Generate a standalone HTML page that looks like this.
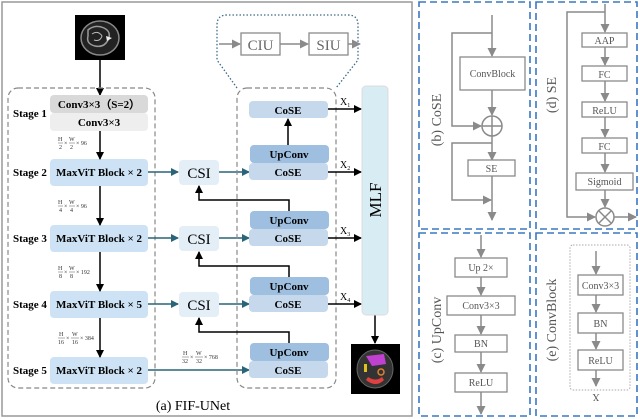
<!DOCTYPE html>
<html><head><meta charset="utf-8"><style>
body{margin:0;background:#fff;}
svg{display:block;font-family:"Liberation Serif",serif;}
.b{font-weight:bold;font-size:11px;}
.g{fill:#fff;stroke:#8a8a8a;stroke-width:1.3;}
.gt{font-size:10px;fill:#555;text-anchor:middle;}
.f{font-size:6px;fill:#333;}
</style></head><body>
<svg width="640" height="419" viewBox="0 0 640 419" xmlns="http://www.w3.org/2000/svg">
<defs>
<marker id="ak" markerWidth="8" markerHeight="8" refX="7" refY="4" orient="auto" markerUnits="userSpaceOnUse"><path d="M0,0 L8,4 L0,8z" fill="#000"/></marker>
<marker id="at" markerWidth="8" markerHeight="8" refX="7" refY="4" orient="auto" markerUnits="userSpaceOnUse"><path d="M0,0 L8,4 L0,8z" fill="#2a6478"/></marker>
<marker id="ag" markerWidth="9" markerHeight="9" refX="8" refY="4.5" orient="auto" markerUnits="userSpaceOnUse"><path d="M0,0 L9,4.5 L0,9z" fill="#8a8a8a"/></marker>
</defs>
<rect x="2" y="2" width="410" height="414" fill="none" stroke="#999" stroke-width="1.5"/>
<!-- input image -->
<rect x="75" y="15" width="50" height="45" fill="#000"/>
<ellipse cx="100" cy="38" rx="19" ry="17" fill="#222" stroke="#888" stroke-width="1.5"/>
<path d="M88,30 Q95,24 104,28 Q112,32 108,40 Q104,48 95,46 Q86,44 88,36z" fill="none" stroke="#999" stroke-width="1.5"/>
<path d="M92,34 Q98,30 102,36 Q100,42 94,40" fill="none" stroke="#bbb" stroke-width="1"/>
<path d="M106,36 L112,38 L107,41z" fill="#eee"/>
<line x1="100" y1="60" x2="100" y2="95" stroke="#000" stroke-width="1.5" marker-end="url(#ak)"/>
<rect x="8" y="88" width="147" height="300" rx="10" fill="none" stroke="#888" stroke-dasharray="5,3" stroke-width="1.2"/>
<rect x="50" y="95" width="98" height="18" rx="4" fill="#d9d9d9"/>
<rect x="50" y="113" width="98" height="18" rx="4" fill="#eeeeee"/>
<text x="99" y="108" class="b" text-anchor="middle">Conv3×3（S=2）</text>
<text x="99" y="126" class="b" text-anchor="middle">Conv3×3</text>
<text x="13" y="117" class="b">Stage 1</text>
<g fill="#cde3f5">
<rect x="50" y="159" width="98" height="27" rx="4"/>
<rect x="50" y="225" width="98" height="27" rx="4"/>
<rect x="50" y="291" width="98" height="27" rx="4"/>
<rect x="50" y="357" width="98" height="27" rx="4"/>
</g>
<g class="b">
<text x="13" y="176">Stage 2</text><text x="13" y="242">Stage 3</text><text x="13" y="308">Stage 4</text><text x="13" y="374">Stage 5</text>
<text x="99" y="176" text-anchor="middle">MaxViT Block × 2</text>
<text x="99" y="242" text-anchor="middle">MaxViT Block × 2</text>
<text x="99" y="308" text-anchor="middle">MaxViT Block × 5</text>
<text x="99" y="374" text-anchor="middle">MaxViT Block × 2</text>
</g>
<g stroke="#000" stroke-width="1.5">
<line x1="100" y1="131" x2="100" y2="159" marker-end="url(#ak)"/>
<line x1="100" y1="186" x2="100" y2="225" marker-end="url(#ak)"/>
<line x1="100" y1="252" x2="100" y2="291" marker-end="url(#ak)"/>
<line x1="100" y1="318" x2="100" y2="357" marker-end="url(#ak)"/>
</g>
<!-- fractions -->
<g class="f">
<g transform="translate(58,144)"><text x="0" y="-3">H</text><line x1="0" y1="-1" x2="5" y2="-1" stroke="#333" stroke-width="0.4"/><text x="1" y="5">2</text><text x="6" y="1">×</text><text x="11" y="-3">W</text><line x1="11" y1="-1" x2="17" y2="-1" stroke="#333" stroke-width="0.4"/><text x="12" y="5">2</text><text x="18" y="1">× 96</text></g>
<g transform="translate(58,207)"><text x="0" y="-3">H</text><line x1="0" y1="-1" x2="5" y2="-1" stroke="#333" stroke-width="0.4"/><text x="1" y="5">4</text><text x="6" y="1">×</text><text x="11" y="-3">W</text><line x1="11" y1="-1" x2="17" y2="-1" stroke="#333" stroke-width="0.4"/><text x="12" y="5">4</text><text x="18" y="1">× 96</text></g>
<g transform="translate(58,273)"><text x="0" y="-3">H</text><line x1="0" y1="-1" x2="5" y2="-1" stroke="#333" stroke-width="0.4"/><text x="1" y="5">8</text><text x="6" y="1">×</text><text x="11" y="-3">W</text><line x1="11" y1="-1" x2="17" y2="-1" stroke="#333" stroke-width="0.4"/><text x="12" y="5">8</text><text x="18" y="1">× 192</text></g>
<g transform="translate(58,339)"><text x="1" y="-3">H</text><line x1="0" y1="-1" x2="7" y2="-1" stroke="#333" stroke-width="0.4"/><text x="0" y="5">16</text><text x="8" y="1">×</text><text x="14" y="-3">W</text><line x1="13" y1="-1" x2="21" y2="-1" stroke="#333" stroke-width="0.4"/><text x="14" y="5">16</text><text x="22" y="1">× 384</text></g>
<g transform="translate(182,358)"><text x="1" y="-3">H</text><line x1="0" y1="-1" x2="7" y2="-1" stroke="#333" stroke-width="0.4"/><text x="0" y="5">32</text><text x="8" y="1">×</text><text x="14" y="-3">W</text><line x1="13" y1="-1" x2="21" y2="-1" stroke="#333" stroke-width="0.4"/><text x="14" y="5">32</text><text x="22" y="1">× 768</text></g>
</g>
<g fill="#e4eef7">
<rect x="179" y="160" width="40" height="25" rx="4"/>
<rect x="179" y="226" width="40" height="25" rx="4"/>
<rect x="179" y="292" width="40" height="25" rx="4"/>
</g>
<g font-size="15" text-anchor="middle"><text x="199" y="178">CSI</text><text x="199" y="244">CSI</text><text x="199" y="310">CSI</text></g>
<g stroke="#2a6478" stroke-width="1.5">
<line x1="148" y1="172" x2="178" y2="172" marker-end="url(#at)"/>
<line x1="148" y1="238" x2="178" y2="238" marker-end="url(#at)"/>
<line x1="148" y1="304" x2="178" y2="304" marker-end="url(#at)"/>
<line x1="219" y1="172" x2="249" y2="172" marker-end="url(#at)"/>
<line x1="219" y1="238" x2="249" y2="238" marker-end="url(#at)"/>
<line x1="219" y1="304" x2="249" y2="304" marker-end="url(#at)"/>
<line x1="148" y1="370" x2="249" y2="370" marker-end="url(#at)"/>
</g>
<rect x="237" y="88" width="99" height="300" rx="10" fill="none" stroke="#888" stroke-dasharray="5,3" stroke-width="1.2"/>
<g fill="#c6d8ec">
<rect x="249" y="101" width="79" height="17" rx="4"/>
<rect x="249" y="163" width="79" height="17" rx="4"/>
<rect x="249" y="229" width="79" height="17" rx="4"/>
<rect x="249" y="295" width="79" height="17" rx="4"/>
<rect x="249" y="361" width="79" height="17" rx="4"/>
</g>
<g fill="#9ebfe0">
<rect x="250" y="145" width="79" height="18" rx="4"/>
<rect x="250" y="211" width="79" height="18" rx="4"/>
<rect x="250" y="277" width="79" height="18" rx="4"/>
<rect x="250" y="343" width="79" height="18" rx="4"/>
</g>
<g class="b" text-anchor="middle">
<text x="288" y="114">CoSE</text>
<text x="289" y="158">UpConv</text><text x="288" y="176">CoSE</text>
<text x="289" y="224">UpConv</text><text x="288" y="242">CoSE</text>
<text x="289" y="290">UpConv</text><text x="288" y="308">CoSE</text>
<text x="289" y="356">UpConv</text><text x="288" y="374">CoSE</text>
</g>
<g stroke="#000" stroke-width="1.5" fill="none">
<line x1="288" y1="145" x2="288" y2="119" marker-end="url(#ak)"/>
<polyline points="289,211 289,200 199,200 199,186" marker-end="url(#ak)"/>
<polyline points="289,277 289,266 199,266 199,252" marker-end="url(#ak)"/>
<polyline points="289,343 289,332 199,332 199,318" marker-end="url(#ak)"/>
<line x1="328" y1="109" x2="361" y2="109" marker-end="url(#ak)"/>
<line x1="328" y1="172" x2="361" y2="172" marker-end="url(#ak)"/>
<line x1="328" y1="238" x2="361" y2="238" marker-end="url(#ak)"/>
<line x1="328" y1="304" x2="361" y2="304" marker-end="url(#ak)"/>
<line x1="375" y1="315" x2="375" y2="343" marker-end="url(#ak)"/>
</g>
<g font-size="10"><text x="340" y="105">X<tspan font-size="6" dy="2">1</tspan></text><text x="340" y="168">X<tspan font-size="6" dy="2">2</tspan></text><text x="340" y="234">X<tspan font-size="6" dy="2">3</tspan></text><text x="340" y="300">X<tspan font-size="6" dy="2">4</tspan></text></g>
<rect x="362" y="86" width="26" height="229" rx="4" fill="#d8ecf3" stroke="#ddd"/>
<text x="0" y="0" font-size="17" text-anchor="middle" transform="translate(381,200) rotate(-90)">MLF</text>
<rect x="351" y="344" width="49" height="50" fill="#000"/>
<ellipse cx="375" cy="369" rx="18" ry="19" fill="#333" stroke="#666"/>
<path d="M366,356 L384,354 L386,364 L372,366z" fill="#c040d0"/>
<path d="M366,380 Q376,388 384,380 L382,377 Q376,382 368,377z" fill="#e04040"/>
<rect x="364" y="364" width="3" height="8" fill="#e0c020"/>
<circle cx="381" cy="372" r="3" fill="none" stroke="#e08030" stroke-width="1.5"/>
<path d="M237,88 L217,60 L217,25 Q217,15 227,15 L348,15 Q358,15 358,25 L358,60 L336,88" fill="none" stroke="#3a6b8a" stroke-dasharray="1.5,2" stroke-width="1.3"/>
<rect x="241" y="33" width="39" height="22" class="g"/>
<rect x="309" y="33" width="39" height="22" class="g"/>
<g font-size="15" fill="#666" text-anchor="middle"><text x="260.5" y="50">CIU</text><text x="328.5" y="50">SIU</text></g>
<g stroke="#8a8a8a" stroke-width="1.5">
<line x1="219" y1="44" x2="240" y2="44" marker-end="url(#ag)"/>
<line x1="280" y1="44" x2="308" y2="44" marker-end="url(#ag)"/>
<line x1="348" y1="44" x2="360" y2="44" marker-end="url(#ag)"/>
</g>
<text x="193" y="410" font-size="14" text-anchor="middle">(a) FIF-UNet</text>
<g fill="none" stroke="#3a78c2" stroke-width="1.6" stroke-dasharray="7,4">
<rect x="419" y="2" width="111" height="227"/>
<rect x="536" y="2" width="101" height="227"/>
<rect x="419" y="233" width="111" height="183"/>
<rect x="536" y="233" width="101" height="183"/>
</g>
<g stroke="#8a8a8a" stroke-width="1.5" fill="none">
<line x1="492" y1="15" x2="492" y2="56" marker-end="url(#ag)"/>
<polyline points="492,33 452,33 452,126 481,126" marker-end="url(#ag)"/>
<line x1="492" y1="90" x2="492" y2="115" marker-end="url(#ag)"/>
<circle cx="492" cy="126" r="10"/>
<line x1="482" y1="126" x2="502" y2="126"/><line x1="492" y1="116" x2="492" y2="136"/>
<line x1="492" y1="136" x2="492" y2="160" marker-end="url(#ag)"/>
<polyline points="492,143 452,143 452,200 491,200" marker-end="url(#ag)"/>
<line x1="492" y1="176" x2="492" y2="220" marker-end="url(#ag)"/>
</g>
<rect x="460" y="57" width="65" height="33" class="g"/>
<rect x="468" y="160" width="47" height="16" class="g"/>
<text x="492.5" y="77" class="gt">ConvBlock</text>
<text x="491.5" y="172" class="gt">SE</text>
<text font-size="14" fill="#555" text-anchor="middle" transform="translate(441,120) rotate(-90)">(b) CoSE</text>
<g stroke="#8a8a8a" stroke-width="1.5" fill="none">
<line x1="605" y1="4" x2="605" y2="32" marker-end="url(#ag)"/>
<polyline points="605,12 567,12 567,217 595,217" marker-end="url(#ag)"/>
<line x1="605" y1="47" x2="605" y2="65" marker-end="url(#ag)"/>
<line x1="605" y1="81" x2="605" y2="101" marker-end="url(#ag)"/>
<line x1="605" y1="117" x2="605" y2="137" marker-end="url(#ag)"/>
<line x1="605" y1="153" x2="605" y2="172" marker-end="url(#ag)"/>
<line x1="605" y1="190" x2="605" y2="207" marker-end="url(#ag)"/>
<circle cx="605" cy="217" r="9"/>
<line x1="599" y1="211" x2="611" y2="223"/><line x1="611" y1="211" x2="599" y2="223"/>
<line x1="614" y1="217" x2="636" y2="217" marker-end="url(#ag)"/>
</g>
<rect x="582" y="33" width="45" height="14" class="g"/>
<rect x="582" y="66" width="45" height="15" class="g"/>
<rect x="582" y="102" width="45" height="15" class="g"/>
<rect x="582" y="138" width="45" height="15" class="g"/>
<rect x="576" y="173" width="57" height="17" class="g"/>
<text x="604.5" y="44" class="gt">AAP</text>
<text x="604.5" y="78" class="gt">FC</text>
<text x="604.5" y="114" class="gt">ReLU</text>
<text x="604.5" y="150" class="gt">FC</text>
<text x="604.5" y="185" class="gt">Sigmoid</text>
<text font-size="14" fill="#555" text-anchor="middle" transform="translate(556,95) rotate(-90)">(d) SE</text>
<g stroke="#8a8a8a" stroke-width="1.5">
<line x1="481" y1="235" x2="481" y2="257" marker-end="url(#ag)"/>
<line x1="481" y1="277" x2="481" y2="295" marker-end="url(#ag)"/>
<line x1="481" y1="315" x2="481" y2="334" marker-end="url(#ag)"/>
<line x1="481" y1="352" x2="481" y2="372" marker-end="url(#ag)"/>
<line x1="481" y1="392" x2="481" y2="414" marker-end="url(#ag)"/>
</g>
<rect x="455" y="258" width="52" height="19" class="g"/>
<rect x="447" y="296" width="68" height="19" class="g"/>
<rect x="455" y="335" width="52" height="17" class="g"/>
<rect x="455" y="373" width="52" height="19" class="g"/>
<text x="481" y="271" class="gt">Up 2×</text>
<text x="481" y="309" class="gt">Conv3×3</text>
<text x="481" y="347" class="gt">BN</text>
<text x="481" y="386" class="gt">ReLU</text>
<text font-size="14" fill="#555" text-anchor="middle" transform="translate(441,330) rotate(-90)">(c) UpConv</text>
<rect x="570" y="245" width="60" height="145" rx="3" fill="none" stroke="#aaa" stroke-dasharray="1.5,1.5"/>
<g stroke="#8a8a8a" stroke-width="1.5">
<line x1="596" y1="251" x2="596" y2="274" marker-end="url(#ag)"/>
<line x1="596" y1="295" x2="596" y2="312" marker-end="url(#ag)"/>
<line x1="596" y1="333" x2="596" y2="349" marker-end="url(#ag)"/>
<line x1="596" y1="370" x2="596" y2="386" marker-end="url(#ag)"/>
</g>
<rect x="578" y="275" width="45" height="20" class="g"/>
<rect x="578" y="313" width="45" height="20" class="g"/>
<rect x="578" y="350" width="45" height="20" class="g"/>
<text x="600.5" y="289" class="gt">Conv3×3</text>
<text x="600.5" y="327" class="gt">BN</text>
<text x="600.5" y="364" class="gt">ReLU</text>
<text x="596" y="400" class="gt" transform="rotate(180,596,397)">X</text>
<text font-size="14" fill="#555" text-anchor="middle" transform="translate(556,320) rotate(-90)">(e) ConvBlock</text>
</svg>
</body></html>
